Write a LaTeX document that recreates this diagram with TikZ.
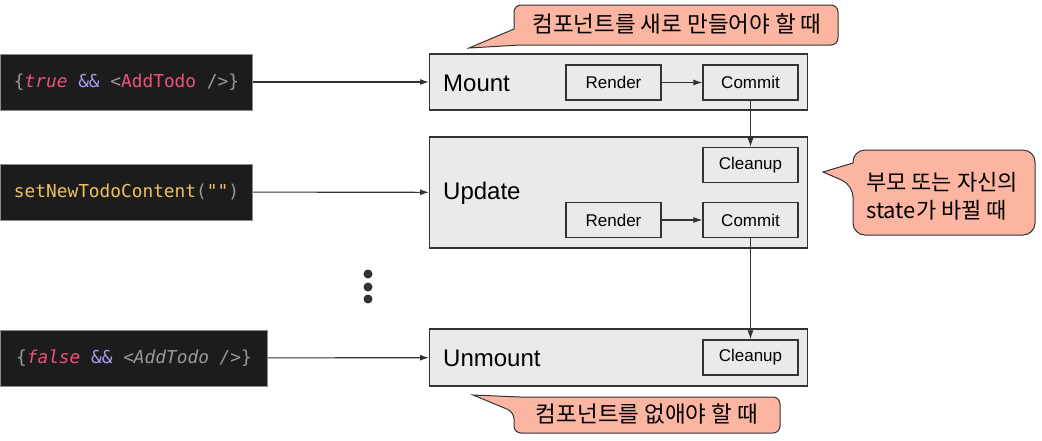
\documentclass[tikz,border=0pt]{standalone}
\usepackage{fontspec}
\setmainfont{Liberation Sans}
\newfontfamily\codefont{DejaVu Sans Mono}
\newfontfamily\kofont{Noto Sans CJK KR}
\usetikzlibrary{arrows.meta}
\definecolor{codebg}{HTML}{1C1C1C}
\definecolor{codeedge}{HTML}{8A8A8A}
\definecolor{cgray}{HTML}{9A9A9A}
\definecolor{cpink}{HTML}{F0507C}
\definecolor{cpurple}{HTML}{A99CF0}
\definecolor{cyellow}{HTML}{F0C060}
\definecolor{stagefill}{HTML}{E9EBEB}
\definecolor{callfill}{HTML}{FBB5A0}
\definecolor{edge}{HTML}{333333}
\newcommand{\kw}[1]{\textcolor{cpink}{\itshape #1}}
\newcommand{\gr}[1]{\textcolor{cgray}{#1}}
\tikzset{
  codebox/.style={draw=codeedge,fill=codebg,line width=1pt,minimum height=56pt,
    anchor=west,inner sep=0pt,font=\codefont\fontsize{17.8}{20}\selectfont},
  stage/.style={draw=edge,fill=stagefill,line width=1.2pt,minimum width=378pt,anchor=west},
  stagelabel/.style={anchor=west,inner sep=0pt,font=\fontsize{24}{28}\selectfont},
  phase/.style={draw=edge,fill=stagefill,line width=1.2pt,minimum width=95pt,
    minimum height=35pt,inner sep=0pt,font=\fontsize{17}{20}\selectfont},
  flow/.style={-{Latex[length=9pt,width=6pt]},line width=1.1pt,draw=edge},
  callbox/.style={draw=edge,fill=callfill,line width=1pt},
  calltext/.style={inner sep=0pt,font=\kofont\fontsize{22.5}{28}\selectfont}
}
\begin{document}
\begin{tikzpicture}[x=1pt,y=-1pt]
\useasboundingbox (0,0) rectangle (1042,440);
% code snippets on the left
\node[codebox,minimum width=252pt] (code1) at (0,82)
  {\gr{\{}\kw{true} \textcolor{cpurple}{\&\&} \gr{<}\textcolor{cpink}{AddTodo} \gr{/>\}}};
\node[codebox,minimum width=252pt] (code2) at (0,192)
  {\textcolor{cyellow}{setNewTodoContent}\gr{(}\textcolor{cyellow}{""}\gr{)}};
\node[codebox,minimum width=267pt] (code3) at (0,358)
  {\gr{\{}\kw{false} \textcolor{cpurple}{\&\&} \gr{\itshape <AddTodo />}\gr{\}}};
% lifecycle stages
\node[stage,minimum height=56pt] (mount) at (429,82) {};
\node[stage,minimum height=111pt] (update) at (429,192.5) {};
\node[stage,minimum height=57pt] (unmount) at (429,357.5) {};
\node[stagelabel] (mountlbl) at (443,83) {Mount};
\node[stagelabel] (updatelbl) at (443,193) {Update};
\node[stagelabel] (unmountlbl) at (443,358) {Unmount};
% phases inside the stages
\node[phase] (render1) at (613.5,82.5) {Render};
\node[phase] (commit1) at (750.5,82.5) {Commit};
\node[phase] (cleanup2) at (750.5,165) {Cleanup};
\node[phase] (render2) at (613.5,220) {Render};
\node[phase] (commit2) at (750.5,220) {Commit};
\node[phase] (cleanup3) at (750.5,357.5) {Cleanup};
\draw[flow] (code1) -- (mount);
\draw[flow] (code2) -- (update);
\draw[flow] (code3) -- (unmount);
\draw[flow] (render1) -- (commit1);
\draw[flow] (render2) -- (commit2);
\draw[flow] (commit1) -- (cleanup2);
\draw[flow] (commit2) -- (cleanup3);
% more updates
\foreach \y in {274,287,299} \fill[edge] (368,\y) circle (4.5);
% callouts
\draw[callbox] (469,48) -- (514,29) [rounded corners=7] -- (514,5) -- (838,5) -- (838,45)
  -- (520,45) [sharp corners] -- cycle;
\node[calltext] (mounttip) at (677,24) {컴포넌트를 새로 만들어야 할 때};
\draw[callbox] (823,172) -- (853,163) [rounded corners=12] -- (853,150) -- (1035,150)
  -- (1035,235) -- (853,235) -- (853,185) [sharp corners] -- cycle;
\node[calltext,align=left,font=\kofont\fontsize{22}{28}\selectfont] (updatetip) at (942,196)
  {부모 또는 자신의\\state가 바뀔 때};
\draw[callbox] (473,395) -- (520,397) [rounded corners=7] -- (780,397) -- (780,433)
  -- (514,433) -- (514,412) [sharp corners] -- cycle;
\node[calltext] (unmounttip) at (647,414) {컴포넌트를 없애야 할 때};
\end{tikzpicture}
\end{document}
